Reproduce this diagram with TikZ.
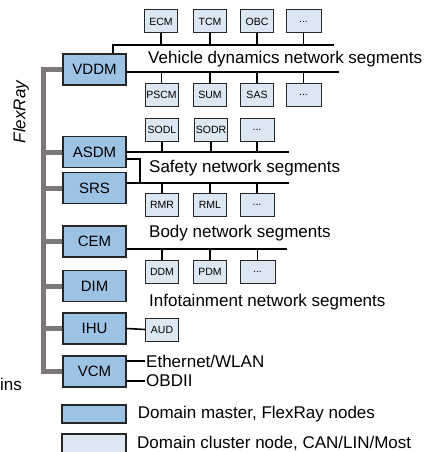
\documentclass[tikz,border=0pt]{standalone}
\usepackage{fontspec}
\setmainfont{Liberation Sans}
\usetikzlibrary{calc,positioning}
\definecolor{masterblue}{RGB}{157,195,228}
\definecolor{clusterblue}{RGB}{219,231,242}
\definecolor{busgray}{RGB}{125,120,120}
\begin{document}
\begin{tikzpicture}[x=1pt,y=-1pt,
  master/.style={draw=black!85,fill=masterblue,line width=1.2pt,minimum width=63pt,minimum height=31pt,inner sep=0pt,font=\fontsize{15}{15}\selectfont},
  cluster/.style={draw=black!85,fill=clusterblue,line width=1pt,minimum width=33pt,minimum height=23pt,inner sep=0pt,font=\fontsize{10.5}{10.5}\selectfont},
  legendbox/.style={draw=black!85,line width=1.2pt,minimum width=64pt,minimum height=18pt,inner sep=0pt},
  bus/.style={line width=1.6pt},
  flexbus/.style={line width=5pt,draw=busgray},
  seglabel/.style={anchor=west,inner sep=0pt,font=\fontsize{17}{17}\selectfont}]
\useasboundingbox (0,0) rectangle (442,452);
% domain masters
\node[master] (VDDM) at (94.5,69.5) {VDDM};
\node[master] (ASDM) at (94.5,152) {ASDM};
\node[master] (SRS) at (94.5,188) {SRS};
\node[master] (CEM) at (94.5,241.5) {CEM};
\node[master] (DIM) at (94.5,286) {DIM};
\node[master] (IHU) at (94.5,328.5) {IHU};
\node[master] (VCM) at (94.5,371.5) {VCM};
% flexray backbone
\coordinate (fr) at (43.5,0);
\draw[flexbus] (VDDM.west) -| (fr |- VDDM.west) |- (VCM.west);
\draw[flexbus] (ASDM.west) -- (ASDM.west -| fr);
\draw[flexbus] (SRS.west) -- (SRS.west -| fr);
\draw[flexbus] (CEM.west) -- (CEM.west -| fr);
\draw[flexbus] (DIM.west) -- (DIM.west -| fr);
\draw[flexbus] (IHU.west) -- (IHU.west -| fr);
\node[rotate=90,font=\fontsize{17}{17}\selectfont\itshape] (flexray) at (21,112) {FlexRay};
\node[anchor=west,inner sep=0pt,font=\fontsize{17}{17}\selectfont] (ins) at (0,384) {ins};
% vehicle dynamics
\coordinate (vtop) at (334,45);
\coordinate (vbot) at (339,72);
\draw[bus] ([xshift=18.5pt]VDDM.north) |- (vtop);
\draw[bus] ([yshift=-2.5pt]VDDM.east) -- (vbot);
\node[cluster] (ECM) at (161,21.5) {ECM};
\node[cluster] (TCM) at (210,21.5) {TCM};
\node[cluster] (OBC) at (257,21.5) {OBC};
\node[cluster,minimum width=35pt] (vtdots) at (303.5,21.5) {...};
\node[cluster] (PSCM) at (161.5,94.5) {PSCM};
\node[cluster] (SUM) at (210,94.5) {SUM};
\node[cluster] (SAS) at (257,94.5) {SAS};
\node[cluster,minimum width=35pt] (vbdots) at (303.5,94.5) {...};
\foreach \n in {ECM,TCM,OBC,vtdots}
  \draw[bus] (\n.south) -- (\n.south |- vtop);
\foreach \n in {PSCM,SUM,SAS,vbdots}
  \draw[bus] (\n.north) -- (\n.north |- vbot);
\node[seglabel] (vdlabel) at (148,59) {Vehicle dynamics network segments};
% safety
\coordinate (stop) at (289,152);
\coordinate (sbot) at (289,183);
\draw[bus] (ASDM.east) -- (stop);
\draw[bus] ([yshift=-7pt]ASDM.east) -| (140,183);
\draw[bus] ([yshift=5pt]SRS.east) -- (sbot);
\node[cluster] (SODL) at (162,130) {SODL};
\node[cluster] (SODR) at (211,130) {SODR};
\node[cluster,minimum width=34pt] (stdots) at (257,130) {...};
\node[cluster] (RMR) at (162,205) {RMR};
\node[cluster] (RML) at (210,205) {RML};
\node[cluster,minimum width=34pt] (sbdots) at (257,205) {...};
\foreach \n in {SODL,SODR,stdots}
  \draw[bus] (\n.south) -- (\n.south |- stop);
\foreach \n in {RMR,RML,sbdots}
  \draw[bus] (\n.north) -- (\n.north |- sbot);
\node[seglabel] (sflabel) at (149,168) {Safety network segments};
% body
\coordinate (bbot) at (287,249);
\draw[bus] ([yshift=-7.5pt]CEM.east) -- (bbot);
\node[cluster] (DDM) at (162,271.5) {DDM};
\node[cluster] (PDM) at (210,271.5) {PDM};
\node[cluster,minimum width=35pt] (bdots) at (257.5,271.5) {...};
\foreach \n in {DDM,PDM,bdots}
  \draw[bus] (\n.north) -- (\n.north |- bbot);
\node[seglabel] (bdlabel) at (149,233) {Body network segments};
% infotainment
\node[seglabel] (iflabel) at (149,302) {Infotainment network segments};
\node[cluster] (AUD) at (162,329.5) {AUD};
\draw[bus] (IHU.east) -- (AUD.west);
% vcm
\node[seglabel,inner sep=1pt] (eth) at (145,361) {Ethernet/WLAN};
\node[seglabel,inner sep=1pt] (obd) at (145,381) {OBDII};
\draw[bus] (VCM.east |- eth.west) -- (eth.west);
\draw[bus] (VCM.east |- obd.west) -- (obd.west);
% legend
\node[legendbox,fill=masterblue] (lgm) at (94,414) {};
\node[legendbox,fill=clusterblue,minimum height=20pt] (lgc) at (94,444) {};
\node[seglabel,right=11pt of lgm] (lgmtext) {Domain master, FlexRay nodes};
\node[seglabel] (lgctext) at (137,443) {Domain cluster node, CAN/LIN/Most};
\end{tikzpicture}
\end{document}
